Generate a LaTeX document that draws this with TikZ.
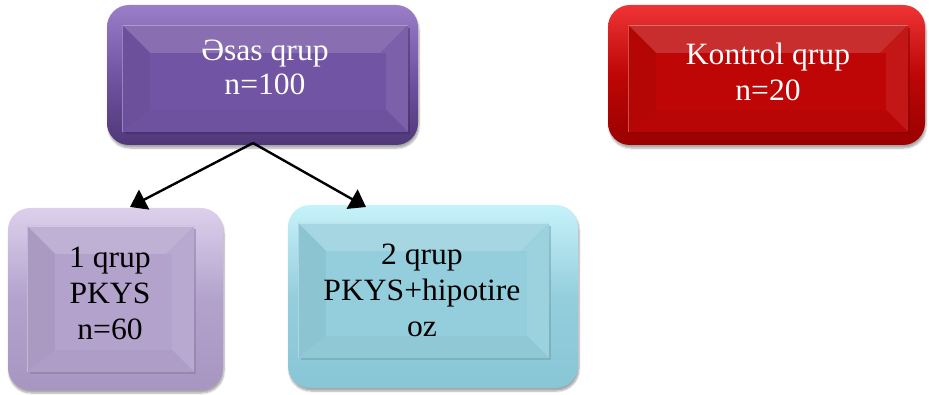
\documentclass[tikz,border=0pt]{standalone}
\usepackage{fontspec}
\setmainfont{Liberation Serif}[FakeStretch=1.02]
\usetikzlibrary{arrows.meta,fit,shadows.blur}
\definecolor{pTop}{HTML}{9A7EC8}
\definecolor{pBot}{HTML}{4F3878}
\definecolor{pFace}{HTML}{7254A4}
\definecolor{rTop}{HTML}{EE3434}
\definecolor{rBot}{HTML}{9A0000}
\definecolor{rFace}{HTML}{BE0606}
\definecolor{lTop}{HTML}{DCD0EC}
\definecolor{lBot}{HTML}{A896C2}
\definecolor{lFace}{HTML}{B3A2CC}
\definecolor{cTop}{HTML}{C6F2FA}
\definecolor{cBot}{HTML}{88C6D6}
\definecolor{cFace}{HTML}{94CEDC}
\tikzset{
  boxouter/.style={rounded corners=22pt, blur shadow={shadow xshift=1pt, shadow yshift=-3pt, shadow blur steps=6, shadow opacity=35}},
  boxtext/.style={align=center, font=\fontsize{31}{36}\selectfont, inner sep=0pt},
  conn/.style={draw=black, line width=2.4pt, -{Triangle[width=22pt,length=16pt,fill=black,color=black]}}
}
\newcommand{\bevbox}[8]{%
  \draw[boxouter, draw=none, top color=#2Top, bottom color=#2Bot, middle color=#2Face] (#3) rectangle (#4);
  \node[fit={(#3)(#4)}, inner sep=0pt] (#1) {};
  \fill[#2Face] (#5,#6) rectangle (#7,#8);
  \fill[#2Face!84!white] (#5,#6) -- (#7,#6) -- (#7-28,#6+28) -- (#5+28,#6+28) -- cycle;
  \fill[#2Face!95!black] (#5,#6) -- (#5+28,#6+28) -- (#5+28,#8-22) -- (#5,#8) -- cycle;
  \fill[#2Face!93!white] (#7,#6) -- (#7,#8) -- (#7-22,#8-22) -- (#7-28,#6+28) -- cycle;
  \fill[#2Face!97!black] (#5,#8) -- (#5+28,#8-22) -- (#7-22,#8-22) -- (#7,#8) -- cycle;
  \fill[#2Face] (#5+28,#6+28) rectangle (#7-22,#8-22);
  \draw[#2Bot!80!black, opacity=0.5, line width=2.5pt] (#7+1.2,#6+3) -- (#7+1.2,#8+1.2) -- (#5+3,#8+1.2);
  \draw[white, opacity=0.3, line width=0.8pt] (#5,#8) -- (#5,#6) -- (#7,#6);
}
\begin{document}
\begin{tikzpicture}[x=1pt, y=-1pt]
\useasboundingbox (0,0) rectangle (929,395);
\bevbox{esas}{p}{107,5}{418,145}{122}{25}{408}{132}
\bevbox{kontrol}{r}{608,5}{925,145}{628}{25}{908}{132}
\bevbox{qrupa}{l}{8,208}{223,390}{27}{226}{194}{372}
\bevbox{qrupb}{c}{288,205}{578,388}{298}{223}{549}{358}
\node[boxtext, text=white, font=\fontsize{31}{34}\selectfont] (esasT) at (265,67) {Əsas qrup\\n=100};
\node[boxtext, text=white] (kontrolT) at (768,72) {Kontrol qrup\\n=20};
\node[boxtext, text=black] (qrupaT) at (110,293) {1 qrup\\PKYS\\n=60};
\node[boxtext, text=black] (qrupbT) at (422,290) {2 qrup\\PKYS+hipotire\\oz};
\coordinate (apex) at (253,143);
\coordinate (tipa) at (130,207);
\coordinate (tipb) at (366,207);
\begin{scope}[opacity=1]
\draw[conn] (apex) -- (tipa);
\draw[conn] (apex) -- (tipb);
\end{scope}
\end{tikzpicture}
\end{document}
